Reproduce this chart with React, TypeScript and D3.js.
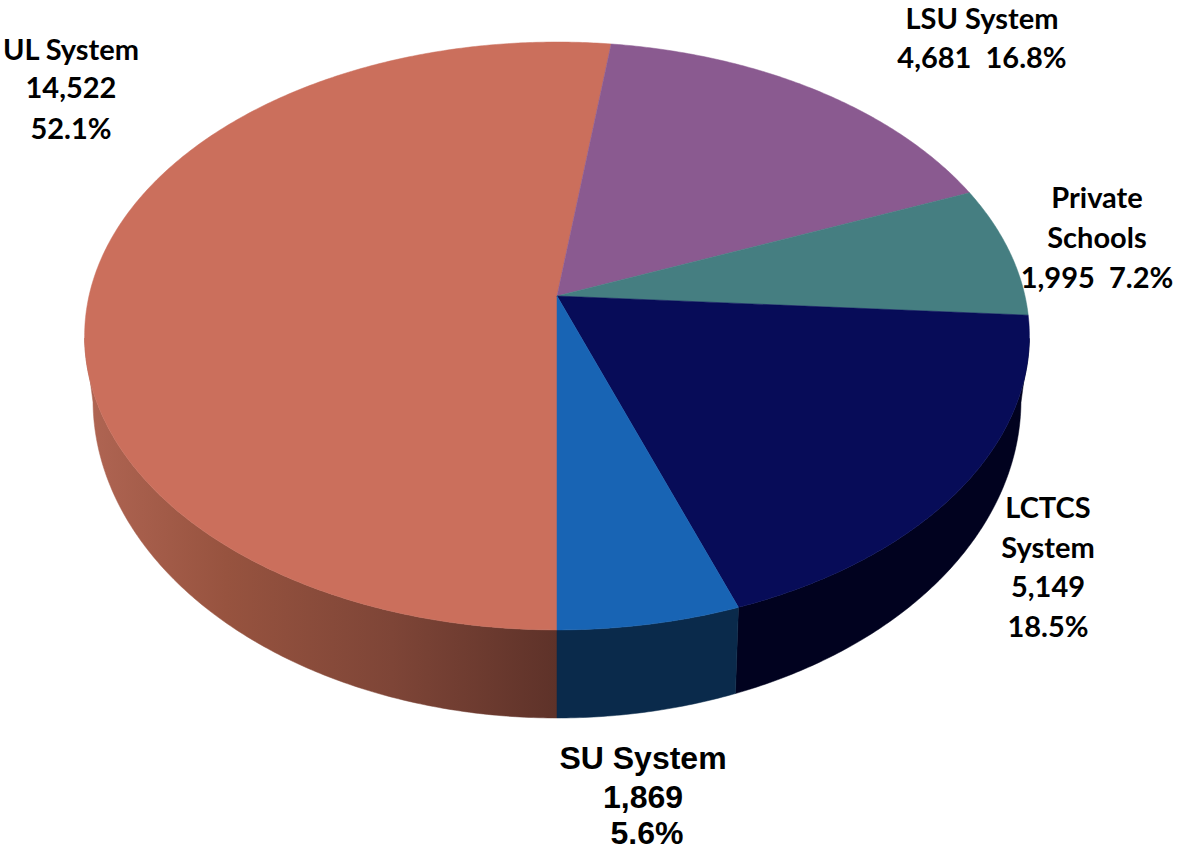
import React from "react";
import * as d3 from "d3";

const names = ["UL System", "LSU System", "Private Schools", "LCTCS System", "SU System"];
const shares = [52.2, 16.8, 7.2, 18.5, 5.5];
const topColors = ["#CB6F5C", "#8A5A90", "#457E81", "#070C58", "#1864B4"];
const wallColors = ["url(#ulWall)", "none", "none", "#01021F", "#0A2A4B"];
const ulWallStops = [
  [0, "#B06553"],
  [0.3, "#97533F"],
  [0.65, "#7E4537"],
  [1, "#5E3229"],
];

type Label = { text: string; x: number; y: number; arial?: boolean };
const labels: Label[] = [
  { text: "UL System", x: 71, y: 60 },
  { text: "14,522", x: 71, y: 98 },
  { text: "52.1%", x: 71, y: 139 },
  { text: "LSU System", x: 982, y: 29 },
  { text: "4,681\u00A0\u00A016.8%", x: 982, y: 68 },
  { text: "Private", x: 1097, y: 208 },
  { text: "Schools", x: 1097, y: 248 },
  { text: "1,995\u00A0\u00A07.2%", x: 1097, y: 288 },
  { text: "LCTCS", x: 1048, y: 518 },
  { text: "System", x: 1048, y: 558 },
  { text: "5,149", x: 1048, y: 597 },
  { text: "18.5%", x: 1048, y: 637 },
  { text: "SU System", x: 643, y: 769, arial: true },
  { text: "1,869", x: 643, y: 808, arial: true },
  { text: "5.6%", x: 647, y: 844, arial: true },
];

// Layout of the tilted pie
const cx = 557;
const apexY = 296;
const k = -0.136;
const scaleX = 468;
const scaleY = 288.5;
const rimCy = 336;
const rimRx = 472;
const rimRy = 294;
const baseCy = 400;
const baseRx = 464;
const baseRy = 318;

const project = (a: number): [number, number] => {
  const u = Math.sin(a);
  const v = -Math.cos(a);
  const w = 1 + k * v;
  return [cx + (scaleX * u) / w, apexY + (scaleY * v) / w];
};
const toBase = ([x, y]: [number, number]): [number, number] => {
  const phi = Math.atan2((x - cx) / rimRx, (y - rimCy) / rimRy);
  return [cx + baseRx * Math.sin(phi), baseCy + baseRy * Math.cos(phi)];
};
const sample = (a0: number, a1: number) => {
  const n = Math.max(2, Math.ceil(Math.abs(a1 - a0) / (Math.PI / 360)));
  return d3.range(n + 1).map((i) => a0 + ((a1 - a0) * i) / n);
};

export default function App() {
  const pie = d3
    .pie<number>()
    .sort(null)
    .startAngle(Math.PI)
    .endAngle(3 * Math.PI);
  const arcs = pie(shares);
  const line = d3.line();

  return (
    <svg
      width={1179}
      height={851}
      viewBox="0 0 1179 851"
      style={{ position: "absolute", left: 0, top: 0, background: "#fff" }}
    >
      <defs>
        <linearGradient id="ulWall" gradientUnits="userSpaceOnUse" x1={85} x2={cx} y1={0} y2={0}>
          {ulWallStops.map(([o, c]) => (
            <stop key={String(o)} offset={o as number} stopColor={c as string} />
          ))}
        </linearGradient>
      </defs>
      {arcs.map((d, i) => {
        if (wallColors[i] === "none") return null;
        const rim = sample(d.startAngle, d.endAngle)
          .map(project)
          .filter((p) => p[1] >= rimCy);
        if (rim.length < 2) return null;
        const base = rim.map(toBase).reverse();
        return (
          <path
            key={names[i] + "wall"}
            d={line([...rim, ...base]) + "Z"}
            fill={wallColors[i]}
            stroke={wallColors[i]}
            strokeWidth={0.5}
          />
        );
      })}
      {arcs.map((d, i) => {
        const rim = sample(d.startAngle, d.endAngle).map(project);
        return (
          <path
            key={names[i]}
            d={line([[cx, apexY], ...rim]) + "Z"}
            fill={topColors[i]}
            stroke={topColors[i]}
            strokeWidth={0.5}
          />
        );
      })}
      {labels.map((l) => (
        <text
          key={l.text}
          x={l.x}
          y={l.y}
          textAnchor="middle"
          fontWeight={700}
          fontFamily={l.arial ? "'Liberation Sans'" : "Lato"}
          fontSize={l.arial ? 32 : 29}
          fill="#000"
        >
          {l.text}
        </text>
      ))}
    </svg>
  );
}
